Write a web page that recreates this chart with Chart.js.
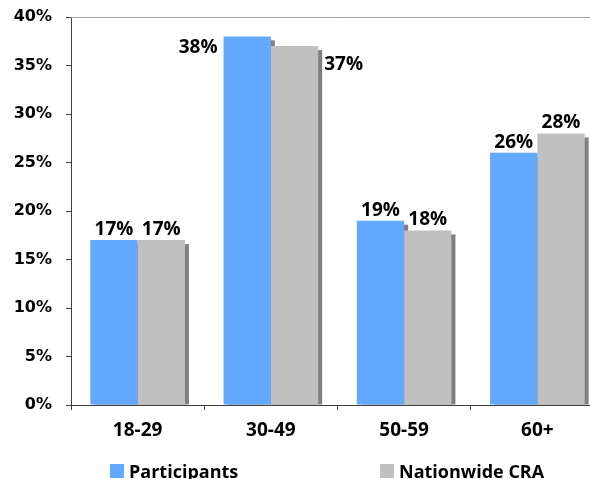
<!DOCTYPE html>
<html>
<head>
<meta charset="utf-8">
<script src="https://cdn.jsdelivr.net/npm/chart.js@4/dist/chart.umd.min.js"></script>
<style>
    html, body { margin: 0; padding: 0; background: #fff; overflow: hidden; }
    #wrap { width: 604px; height: 479px; }
</style>
</head>
<body>
<div id="wrap"><canvas id="grafico" width="604" height="479"></canvas></div>
<script>
// Dados do grafico
const categories = ['18-29', '30-49', '50-59', '60+'];
const participants = [17, 38, 19, 26];
const nationwide = [17, 37, 18, 28];
const seriesNames = ['Participants', 'Nationwide CRA'];
const yTicks = [0, 5, 10, 15, 20, 25, 30, 35, 40];

const colors = ['#62a9ff', '#c0c0c0'];
const shadowColor = '#808080';
const labelFont = 'bold 19px "Open Sans"';

// sombra atras das barras (efeito do Excel)
const shadowPlugin = {
    id: 'shadow',
    beforeDatasetsDraw(chart) {
        const ctx = chart.ctx;
        ctx.save();
        ctx.fillStyle = shadowColor;
        chart.data.datasets.forEach((ds, i) => {
            chart.getDatasetMeta(i).data.forEach(bar => {
                const w = bar.width;
                ctx.fillRect(bar.x - w / 2 + 4, bar.y + 4, w, bar.base - bar.y - 4);
            });
        });
        ctx.restore();
    }
};

// rotulos de valor + linha de cima + legenda
const labelsPlugin = {
    id: 'labels',
    afterDraw(chart) {
        const ctx = chart.ctx;
        const area = chart.chartArea;
        ctx.save();

        // linha do topo da area
        ctx.strokeStyle = '#a0a0a0';
        ctx.lineWidth = 1;
        ctx.beginPath();
        ctx.moveTo(area.left, area.top + 0.5);
        ctx.lineTo(area.right, area.top + 0.5);
        ctx.stroke();

        ctx.font = labelFont;
        ctx.fillStyle = '#000';
        chart.data.datasets.forEach((ds, i) => {
            chart.getDatasetMeta(i).data.forEach((bar, j) => {
                const txt = ds.data[j] + '%';
                const w = bar.width;
                if (j === 1 && i === 0) {
                    // fica ao lado esquerdo
                    ctx.textAlign = 'right';
                    ctx.textBaseline = 'middle';
                    ctx.fillText(txt, bar.x - w / 2 - 6, bar.y + 11);
                } else if (j === 1 && i === 1) {
                    ctx.textAlign = 'left';
                    ctx.textBaseline = 'middle';
                    ctx.fillText(txt, bar.x + w / 2 + 6, bar.y + 18);
                } else {
                    ctx.textAlign = 'center';
                    ctx.textBaseline = 'alphabetic';
                    ctx.fillText(txt, bar.x, bar.y - 5);
                }
            });
        });

        // legenda
        ctx.font = 'bold 18px "Open Sans"';
        const legendX = [110, 380];
        chart.data.datasets.forEach((ds, i) => {
            ctx.fillStyle = ds.backgroundColor;
            ctx.fillRect(legendX[i], 464, 14, 14);
            ctx.fillStyle = '#000';
            ctx.textAlign = 'left';
            ctx.textBaseline = 'alphabetic';
            ctx.fillText(ds.label, legendX[i] + 19, 478);
        });
        ctx.restore();
    }
};

const ctx = document.getElementById('grafico').getContext('2d');
const grafico = new Chart(ctx, {
    type: 'bar',
    data: {
        labels: categories,
        datasets: [
            {
                label: seriesNames[0],
                data: participants,
                backgroundColor: colors[0],
                borderWidth: 0
            },
            {
                label: seriesNames[1],
                data: nationwide,
                backgroundColor: colors[1],
                borderWidth: 0
            }
        ]
    },
    plugins: [shadowPlugin, labelsPlugin],
    options: {
        responsive: false,
        animation: false,
        layout: {
            padding: { top: 17, right: 0, bottom: 34, left: 0 }
        },
        datasets: {
            bar: {
                barPercentage: 1,
                categoryPercentage: 0.71
            }
        },
        plugins: {
            legend: { display: false },
            tooltip: { enabled: false }
        },
        scales: {
            x: {
                afterFit: s => { s.height = 40; },
                grid: {
                    offset: true,
                    drawOnChartArea: false,
                    tickLength: 5,
                    color: '#404040'
                },
                border: { color: '#404040', width: 1 },
                ticks: {
                    color: '#000',
                    padding: 9,
                    font: { family: 'Open Sans', size: 19, weight: 'bold' }
                }
            },
            y: {
                min: 0,
                max: 40,
                afterFit: s => { s.width = 71; s.paddingTop = 0; s.paddingBottom = 0; },
                afterBuildTicks: s => { s.ticks = yTicks.map(v => ({ value: v })); },
                grid: {
                    drawOnChartArea: false,
                    tickLength: 5,
                    color: '#404040'
                },
                border: { color: '#404040', width: 1 },
                ticks: {
                    color: '#000',
                    padding: 14,
                    callback: v => v + '%',
                    font: { family: 'DejaVu Sans', size: 16, weight: 'bold' }
                }
            }
        }
    }
});
</script>
</body>
</html>
